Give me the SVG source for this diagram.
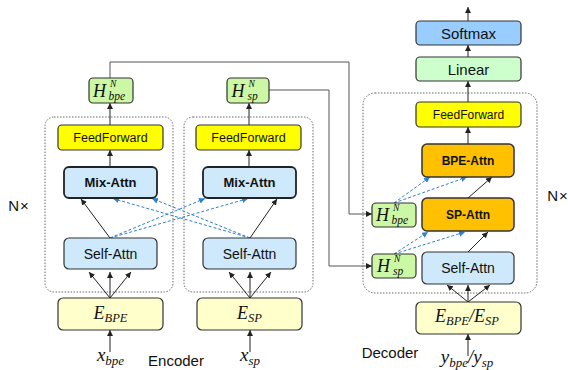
<svg xmlns="http://www.w3.org/2000/svg" width="568" height="370" viewBox="0 0 568 370">
<style>
.box{stroke:#333;stroke-width:1.2}
.ff{fill:#FFFF00}
.blue{fill:#CDE9FB}
.mix{fill:#CDE9FB;stroke:#222;stroke-width:1.8}
.org{fill:#FFC000;stroke:#333;stroke-width:1.5}
.hg{fill:#CCF7A4}
.ey{fill:#FFFFCC}
.sm{fill:#99CCFF}
.lin{fill:#CCFFCC}
.cont{fill:none;stroke:#666;stroke-width:1;stroke-dasharray:1.5,1.5}
.t{font-family:"Liberation Sans",Arial,sans-serif;fill:#111;text-anchor:middle}
.b{font-weight:bold}
.m{font-family:"Liberation Serif","Times New Roman",serif;font-style:italic;fill:#111}
.k{stroke:#222;stroke-width:1;fill:none}
.g{stroke:#555;stroke-width:1;fill:none}
.d{stroke:#2E7FD0;stroke-width:1;stroke-dasharray:3,2;fill:none}
</style>
<defs>
<marker id="a" viewBox="0 0 10 10" refX="10" refY="5" markerWidth="6" markerHeight="6" orient="auto" markerUnits="userSpaceOnUse"><path d="M0,0 L10,5 L0,10 z" fill="#222"/></marker>
<marker id="ab" viewBox="0 0 10 10" refX="10" refY="5" markerWidth="6" markerHeight="6" orient="auto" markerUnits="userSpaceOnUse"><path d="M0,0 L10,5 L0,10 z" fill="#2E7FD0"/></marker>
</defs>

<rect class="cont" x="45" y="117" width="128" height="175" rx="9"/>
<rect class="cont" x="184" y="117" width="129" height="175" rx="9"/>
<rect class="cont" x="363" y="93" width="174" height="200" rx="12"/>

<g id="connectors">
<line class="k" x1="110" y1="352" x2="110" y2="330" marker-end="url(#a)"/>
<line class="k" x1="110" y1="298" x2="89" y2="272" marker-end="url(#a)"/>
<line class="k" x1="110" y1="298" x2="110" y2="272" marker-end="url(#a)"/>
<line class="k" x1="110" y1="298" x2="131" y2="272" marker-end="url(#a)"/>
<line class="k" x1="110" y1="238" x2="81" y2="199" marker-end="url(#a)"/>
<line class="k" x1="110" y1="167" x2="110" y2="150" marker-end="url(#a)"/>
<line class="k" x1="110" y1="125" x2="110" y2="103" marker-end="url(#a)"/>
<line class="k" x1="250" y1="352" x2="250" y2="330" marker-end="url(#a)"/>
<line class="k" x1="250" y1="298" x2="229" y2="272" marker-end="url(#a)"/>
<line class="k" x1="250" y1="298" x2="250" y2="272" marker-end="url(#a)"/>
<line class="k" x1="250" y1="298" x2="271" y2="272" marker-end="url(#a)"/>
<line class="k" x1="250" y1="238" x2="277" y2="199" marker-end="url(#a)"/>
<line class="k" x1="249" y1="167" x2="249" y2="150" marker-end="url(#a)"/>
<line class="k" x1="249" y1="125" x2="249" y2="103" marker-end="url(#a)"/>
<line class="d" x1="110" y1="238" x2="205" y2="198.5" marker-end="url(#ab)"/>
<line class="d" x1="110" y1="238" x2="248" y2="198.5" marker-end="url(#ab)"/>
<line class="d" x1="250" y1="238" x2="113" y2="198.5" marker-end="url(#ab)"/>
<line class="d" x1="250" y1="238" x2="152" y2="198.5" marker-end="url(#ab)"/>
<polyline class="g" points="110,78 110,62 349,62 349,214 372,214" marker-end="url(#a)"/>
<polyline class="g" points="269,90 329,90 329,266 372,266" marker-end="url(#a)"/>
<line class="k" x1="468" y1="356" x2="468" y2="334" marker-end="url(#a)"/>
<line class="k" x1="468" y1="302" x2="447" y2="285" marker-end="url(#a)"/>
<line class="k" x1="468" y1="302" x2="468" y2="285" marker-end="url(#a)"/>
<line class="k" x1="468" y1="302" x2="490" y2="285" marker-end="url(#a)"/>
<line class="k" x1="468" y1="252" x2="488" y2="232" marker-end="url(#a)"/>
<line class="k" x1="468" y1="198" x2="492" y2="177" marker-end="url(#a)"/>
<line class="d" x1="394" y1="254" x2="428" y2="232" marker-end="url(#ab)"/>
<line class="d" x1="394" y1="254" x2="465" y2="232" marker-end="url(#ab)"/>
<line class="d" x1="394" y1="203" x2="430" y2="177" marker-end="url(#ab)"/>
<line class="d" x1="394" y1="203" x2="467" y2="177" marker-end="url(#ab)"/>
<line class="k" x1="468" y1="144" x2="468" y2="127" marker-end="url(#a)"/>
<line class="k" x1="468" y1="102" x2="468" y2="81" marker-end="url(#a)"/>
<line class="k" x1="468" y1="57" x2="468" y2="45" marker-end="url(#a)"/>
<line class="k" x1="468" y1="21" x2="468" y2="7" marker-end="url(#a)"/>
</g>

<g id="h-bpe-enc"><rect class="box hg" x="89" y="78" width="44" height="25" rx="4"/>
<text class="m" x="93" y="97" font-size="18">H</text><text class="m" x="110" y="86.5" font-size="9.5">N</text><text class="m" x="108.5" y="100" font-size="11.5">bpe</text></g>
<g id="ff-bpe"><rect class="box ff" x="58" y="125" width="105" height="25" rx="4"/><text class="t" x="110.5" y="142" font-size="12.5">FeedForward</text></g>
<g id="mix-bpe"><rect class="mix" x="64" y="167" width="93" height="31" rx="5"/><text class="t b" x="110.5" y="187" font-size="13">Mix-Attn</text></g>
<g id="self-bpe"><rect class="box blue" x="64" y="238" width="93" height="31" rx="5"/><text class="t" x="110.5" y="258.5" font-size="14">Self-Attn</text></g>
<g id="e-bpe"><rect class="box ey" x="58" y="298" width="105" height="32" rx="5"/>
<text class="m" x="110.5" y="319" font-size="18" text-anchor="middle">E<tspan font-size="12.5" dy="3">BPE</tspan></text></g>
<g id="x-bpe"><text class="m" x="110.5" y="361" font-size="19" text-anchor="middle">x<tspan font-size="13" dy="4">bpe</tspan></text></g>

<g id="h-sp-enc"><rect class="box hg" x="227" y="78" width="42" height="25" rx="4"/>
<text class="m" x="231.5" y="97" font-size="18">H</text><text class="m" x="248.5" y="86.5" font-size="9.5">N</text><text class="m" x="247.5" y="100" font-size="11.5">sp</text></g>
<g id="ff-sp"><rect class="box ff" x="196" y="125" width="105" height="25" rx="4"/><text class="t" x="248.5" y="142" font-size="12.5">FeedForward</text></g>
<g id="mix-sp"><rect class="mix" x="203" y="167" width="93" height="31" rx="5"/><text class="t b" x="249.5" y="187" font-size="13">Mix-Attn</text></g>
<g id="self-sp"><rect class="box blue" x="203" y="238" width="93" height="31" rx="5"/><text class="t" x="249.5" y="258.5" font-size="14">Self-Attn</text></g>
<g id="e-sp"><rect class="box ey" x="197" y="298" width="105" height="32" rx="5"/>
<text class="m" x="249.5" y="319" font-size="18" text-anchor="middle">E<tspan font-size="12.5" dy="3">SP</tspan></text></g>
<g id="x-sp"><text class="m" x="250" y="361" font-size="19" text-anchor="middle">x<tspan font-size="13" dy="4">sp</tspan></text></g>

<g id="encoder-label"><text class="t" x="176" y="366" font-size="15">Encoder</text></g>
<g id="nx-left"><text class="t" x="19" y="211" font-size="15" letter-spacing="1">N×</text></g>

<g id="softmax"><rect class="box sm" x="416" y="21" width="105" height="24" rx="4"/><text class="t" x="468.5" y="38.5" font-size="15">Softmax</text></g>
<g id="linear"><rect class="box lin" x="416" y="57" width="105" height="24" rx="4"/><text class="t" x="468.5" y="74.5" font-size="15">Linear</text></g>
<g id="ff-dec"><rect class="box ff" x="416" y="102" width="105" height="25" rx="4"/><text class="t" x="468.5" y="119" font-size="12">FeedForward</text></g>
<g id="bpe-attn"><rect class="org" x="422" y="144" width="92" height="33" rx="5"/><text class="t b" x="468" y="165" font-size="12">BPE-Attn</text></g>
<g id="sp-attn"><rect class="org" x="422" y="198" width="92" height="33" rx="5"/><text class="t b" x="468" y="219" font-size="12">SP-Attn</text></g>
<g id="self-dec"><rect class="box blue" x="422" y="252" width="92" height="32" rx="5"/><text class="t" x="468" y="273" font-size="14">Self-Attn</text></g>
<g id="h-bpe-dec"><rect class="box hg" x="372" y="203" width="44" height="24" rx="4"/>
<text class="m" x="376" y="221" font-size="18">H</text><text class="m" x="393" y="210.5" font-size="9.5">N</text><text class="m" x="391.5" y="224" font-size="11.5">bpe</text></g>
<g id="h-sp-dec"><rect class="box hg" x="372" y="254" width="44" height="24" rx="4"/>
<text class="m" x="377" y="272" font-size="18">H</text><text class="m" x="394" y="261.5" font-size="9.5">N</text><text class="m" x="393" y="275" font-size="11.5">sp</text></g>
<g id="e-dec"><rect class="box ey" x="416" y="302" width="105" height="32" rx="5"/>
<text class="m" x="467" y="322" font-size="18" text-anchor="middle">E<tspan font-size="12.5" dy="3">BPE</tspan><tspan dy="-3">/E</tspan><tspan font-size="12.5" dy="3">SP</tspan></text></g>
<g id="y-dec"><text class="m" x="467" y="363" font-size="19" text-anchor="middle">y<tspan font-size="13" dy="4">bpe</tspan><tspan dy="-4">/y</tspan><tspan font-size="13" dy="4">sp</tspan></text></g>
<g id="decoder-label"><text class="t" x="390" y="358" font-size="15">Decoder</text></g>
<g id="nx-right"><text class="t" x="558" y="201" font-size="15" letter-spacing="1">N×</text></g>
</svg>
